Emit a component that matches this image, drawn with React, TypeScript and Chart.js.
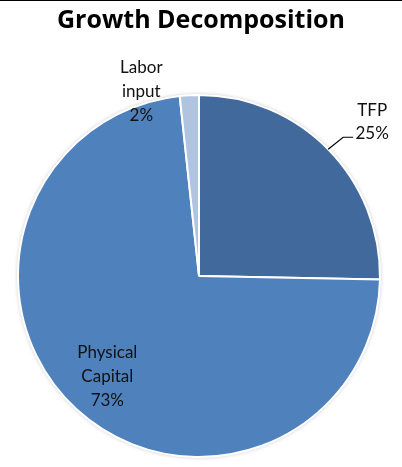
import React, { useEffect, useRef } from "react";
import { Chart, registerables } from "chart.js";

Chart.register(...registerables);

const title = "Growth Decomposition";
const categories = ["TFP", "Physical Capital", "Labor input"];
const shares = [25.3, 73.0, 1.7];
const colors = ["#41699C", "#4F81BD", "#B1C4DF"];
const labelLines = [["TFP"], ["Physical", "Capital"], ["Labor", "input"]];

const W = 402;
const H = 467;
const LABEL_FONT = "17px Lato";
const TITLE_FONT = "bold 25px 'Open Sans'";

const decorPlugin = {
  id: "decor",
  beforeDatasetsDraw(chart: any) {
    const ctx = chart.ctx;
    const arc = chart.getDatasetMeta(0).data[0];
    if (!arc) return;
    const { x, y, outerRadius } = arc.getProps(["x", "y", "outerRadius"], true);
    ctx.save();
    ctx.shadowColor = "rgba(0,0,0,0.3)";
    ctx.shadowBlur = 4;
    ctx.beginPath();
    ctx.arc(x, y, outerRadius, 0, Math.PI * 2);
    ctx.fillStyle = "#ffffff";
    ctx.fill();
    ctx.restore();
  },
  afterDatasetsDraw(chart: any) {
    const ctx = chart.ctx;
    const meta = chart.getDatasetMeta(0);
    const total = shares.reduce((a, b) => a + b, 0);
    ctx.save();
    // top frame line
    ctx.fillStyle = "#000000";
    ctx.fillRect(0, 0, W, 1);
    // title
    ctx.font = TITLE_FONT;
    ctx.fillStyle = "#000000";
    ctx.textAlign = "center";
    ctx.textBaseline = "alphabetic";
    ctx.fillText(title, 201, 28);

    ctx.font = LABEL_FONT;
    ctx.fillStyle = "#111111";
    meta.data.forEach((el: any, i: number) => {
      const { x, y, startAngle, endAngle, outerRadius } = el.getProps(
        ["x", "y", "startAngle", "endAngle", "outerRadius"],
        true
      );
      const mid = (startAngle + endAngle) / 2;
      const pct = Math.round((shares[i] / total) * 100) + "%";
      const lines = [...labelLines[i], pct];
      if (i === 0) {
        const ax = x + outerRadius * Math.cos(mid);
        const ay = y + outerRadius * Math.sin(mid);
        const ex = ax + 15;
        const ey = ay - 12;
        ctx.strokeStyle = "#000000";
        ctx.lineWidth = 1.2;
        ctx.beginPath();
        ctx.moveTo(ax, ay);
        ctx.lineTo(ex, ey);
        ctx.lineTo(ex + 10, ey);
        ctx.stroke();
        const cx = ex + 29;
        ctx.fillText(lines[0], cx, ey - 21);
        ctx.fillText(lines[1], cx, ey + 2);
      } else if (i === 2) {
        const ax = x + outerRadius * Math.cos(mid);
        const ay = y + outerRadius * Math.sin(mid);
        const cx = ax - 48;
        lines.forEach((t, k) => ctx.fillText(t, cx, ay - 22 + k * 24));
      } else {
        const r = outerRadius * 0.75;
        const cx = x + r * Math.cos(mid);
        const cy = y + r * Math.sin(mid);
        lines.forEach((t, k) => ctx.fillText(t, cx, cy - 18 + k * 24));
      }
    });
    ctx.restore();
  },
};

export default function App() {
  const ref = useRef<HTMLCanvasElement | null>(null);
  useEffect(() => {
    if (!ref.current) return;
    const chart = new Chart(ref.current, {
      type: "pie",
      data: {
        labels: categories,
        datasets: [
          {
            data: shares,
            backgroundColor: colors,
            borderColor: "#ffffff",
            borderWidth: 2,
            hoverOffset: 0,
          },
        ],
      },
      options: {
        responsive: false,
        animation: false,
        events: [],
        layout: { padding: { top: 94, left: 17, right: 21, bottom: 9 } },
        plugins: {
          legend: { display: false },
          title: { display: false },
          tooltip: { enabled: false },
        },
      },
      plugins: [decorPlugin],
    });
    return () => chart.destroy();
  }, []);
  return (
    <div style={{ position: "fixed", left: 0, top: 0, width: W, height: H, background: "#ffffff" }}>
      <canvas ref={ref} width={W} height={H} style={{ display: "block" }} />
    </div>
  );
}
